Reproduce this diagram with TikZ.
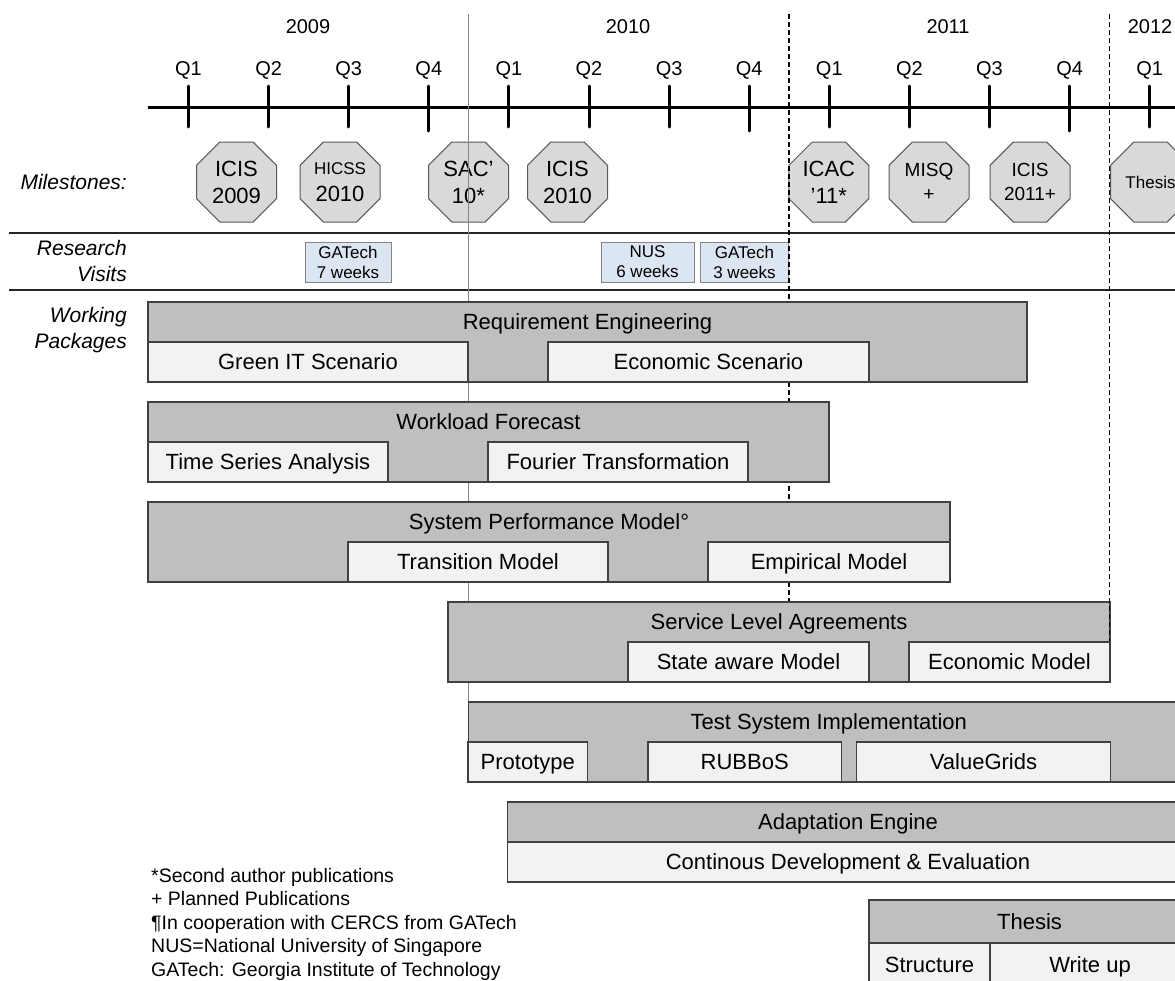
\documentclass[tikz,border=0pt]{standalone}
\usepackage{fontspec}
\setmainfont{Liberation Sans}
\usetikzlibrary{positioning,shapes.geometric}
\definecolor{pkgray}{HTML}{BFBFBF}
\definecolor{sbgray}{HTML}{F2F2F2}
\definecolor{msgray}{HTML}{D9D9D9}
\definecolor{vsblue}{HTML}{DCE6F2}
\definecolor{edge}{HTML}{404040}
\definecolor{msedge}{HTML}{595959}
\definecolor{yrline}{HTML}{858585}
\newcommand{\sz}[2]{\fontsize{#1pt}{#2pt}\selectfont}
\begin{document}
\begin{tikzpicture}[x=1pt,y=-1pt,
 pk/.style={draw=edge,fill=pkgray,line width=1.2pt,minimum height=80pt,inner sep=0pt},
 ttl/.style={minimum height=40pt,inner sep=0pt,text height=15.8pt,text depth=0pt,font=\sz{22}{26}},
 sb/.style={draw=edge,fill=sbgray,line width=1.2pt,minimum height=40pt,inner sep=0pt,text height=15.8pt,text depth=0pt,font=\sz{22}{26}},
 ms/.style={regular polygon,regular polygon sides=8,minimum size=86.6pt,inner sep=0pt,draw=msedge,fill=msgray,line width=1pt,align=center,font=\sz{22}{27}},
 vs/.style={draw=yrline,fill=vsblue,line width=1pt,minimum height=40pt,inner sep=0pt,align=center,font=\sz{17}{20}},
 lb/.style={anchor=east,inner sep=0pt,align=right,font=\itshape\sz{21}{26}},
 ql/.style={font=\sz{20}{24}},
 tk/.style={line width=3pt,line cap=round}]
\clip (0,0) rectangle (1175,980);
\node[ql] (y2009) at (308,27) {2009};
\node[ql] (y2010) at (628,27) {2010};
\node[ql] (y2011) at (948,27) {2011};
\node[ql] (y2012) at (1150,27) {2012};
\foreach \q [count=\i from 0] in {Q1,Q2,Q3,Q4,Q1,Q2,Q3,Q4,Q1,Q2,Q3,Q4,Q1}
  \node[ql] (q\i) at ({188.5+80.1*\i},70) {\q};
\draw[line width=3pt] (148,107) -- (1180,107);
\foreach \i/\e in {0/127,1/127,2/127,3/131,4/127,5/127,6/127,7/131,8/127,9/127,10/127,11/131,12/127}
  \draw[tk] ({188.5+80.1*\i},86) -- ({188.5+80.1*\i},\e);
\node[ms] (icis09) at (236.5,182) {ICIS\\2009};
\node[ms] (hicss10) at (340,182) {{\sz{17}{20}HICSS}\\2010};
\node[ms] (sac10) at (468.5,182) {SAC’\\10*};
\node[ms] (icis10) at (567.5,182) {ICIS\\2010};
\node[ms] (icac11) at (828.8,182) {ICAC\\’11*};
\node[ms,font=\sz{19}{24}] (misq) at (929,182) {MISQ\\+};
\node[ms,font=\sz{19}{24}] (icis11) at (1030,182) {ICIS\\2011+};
\node[ms,font=\sz{17}{20}] (thesisms) at (1150.5,182) {Thesis};
\node[lb] (mslbl) at (127,182) {Milestones:};
\node[lb] (vslbl) at (127,261) {Research\\Visits};
\node[lb] (pklbl) at (127,330) {Working\\Packages};
\draw[line width=1.3pt,black!85] (9,233) -- (1180,233);
\draw[line width=1.3pt,black!85] (9,290) -- (1180,290);
\node[vs,minimum width=86pt] (gatech1) at (348,262) {GATech\\7 weeks};
\node[vs,minimum width=93pt] (nus) at (647.5,262) {NUS\\6 weeks};
\node[vs,minimum width=88pt] (gatech2) at (744.5,262) {GATech\\3 weeks};
\draw[yrline,line width=1.3pt] (468.8,14) -- (468.8,701);
\draw[line width=1.3pt,dash pattern=on 5pt off 3pt] (788.9,14) -- (788.9,602);
\node[pk,minimum width=879pt] (reqeng) at (587.5,342) {};
\node[ttl,below=0pt of reqeng.north] (reqengt) {Requirement Engineering};
\node[sb,minimum width=320pt] (greenit) at (308,362) {Green IT Scenario};
\node[sb,minimum width=321pt] (ecoscen) at (708.5,362) {Economic Scenario};
\node[pk,minimum width=681pt] (workload) at (488.5,442) {};
\node[ttl,below=0pt of workload.north] (workloadt) {Workload Forecast};
\node[sb,minimum width=240pt] (tsa) at (268,462) {Time Series Analysis};
\node[sb,minimum width=260pt] (fourier) at (618,462) {Fourier Transformation};
\node[pk,minimum width=802pt] (sysperf) at (549,542) {};
\node[ttl,below=0pt of sysperf.north] (sysperft) {System Performance Model°};
\node[sb,minimum width=260pt] (transition) at (478,562) {Transition Model};
\node[sb,minimum width=242pt] (empirical) at (829,562) {Empirical Model};
\node[pk,minimum width=662pt] (sla) at (779,642) {};
\node[ttl,below=0pt of sla.north] (slat) {Service Level Agreements};
\node[sb,minimum width=241pt] (stateaware) at (748.5,662) {State aware Model};
\node[sb,minimum width=201pt] (ecomodel) at (1009.5,662) {Economic Model};
\node[pk,minimum width=720pt] (testsys) at (828.8,742) {};
\node[ttl,below=0pt of testsys.north] (testsyst) {Test System Implementation};
\node[sb,minimum width=119.5pt] (prototype) at (527.8,762) {Prototype};
\node[sb,minimum width=193.4pt] (rubbos) at (744.7,762) {RUBBoS};
\node[sb,minimum width=253.7pt] (valuegrids) at (983.5,762) {ValueGrids};
\node[pk,minimum width=681pt] (adapt) at (848,842) {};
\node[ttl,below=0pt of adapt.north] (adaptt) {Adaptation Engine};
\node[sb,minimum width=681pt] (contdev) at (848,862) {Continous Development \& Evaluation};
\node[pk,minimum width=321pt,minimum height=86pt] (thesis) at (1029.5,943) {};
\node[ttl,minimum height=43pt,below=0pt of thesis.north] (thesist) {Thesis};
\node[sb,minimum width=121pt,minimum height=43pt] (structure) at (929.5,964.5) {Structure};
\node[sb,minimum width=200pt,minimum height=43pt] (writeup) at (1090,964.5) {Write up};
\draw[line width=1.3pt,dash pattern=on 5pt off 3pt] (1109.3,14) -- (1109.3,641);
\node[anchor=north west,inner sep=0pt,align=left,font=\sz{19.5}{23.5}] (notes) at (151,868)
 {*Second author publications\\+ Planned Publications\\¶In cooperation with CERCS from GATech\\NUS=National University of Singapore\\GATech: Georgia Institute of Technology};
\end{tikzpicture}
\end{document}
